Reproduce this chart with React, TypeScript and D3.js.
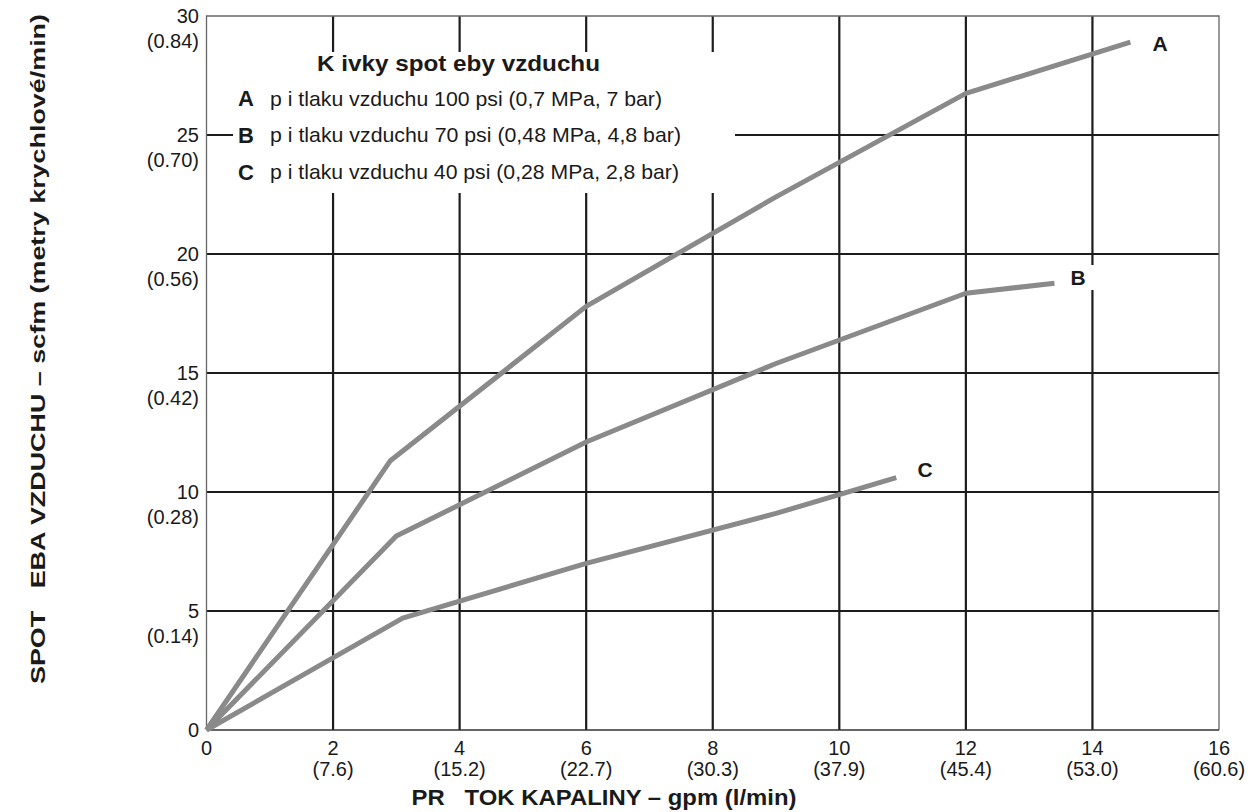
import React, { useEffect, useRef } from 'react';
import * as d3 from 'd3';

// flow (gpm) vs. air consumption (scfm)
const curveA: [number, number][] = [[0, 0], [2.9, 11.3], [6, 17.8], [9, 22.4], [12, 26.75], [14.6, 28.9]];
const curveB: [number, number][] = [[0, 0], [3, 8.15], [6, 12.1], [9, 15.4], [12, 18.35], [13.4, 18.77]];
const curveC: [number, number][] = [[0, 0], [3.1, 4.7], [6, 7.0], [9, 9.1], [10.9, 10.6]];

const xTicks = [0, 2, 4, 6, 8, 10, 12, 14, 16];
const xTickSub = ['', '(7.6)', '(15.2)', '(22.7)', '(30.3)', '(37.9)', '(45.4)', '(53.0)', '(60.6)'];
const yTicks = [0, 5, 10, 15, 20, 25, 30];
const yTickSub = ['', '(0.14)', '(0.28)', '(0.42)', '(0.56)', '(0.70)', '(0.84)'];

const legendTitle = 'K ivky spot eby vzduchu';
const legendRows = [
  { key: 'A', text: 'p i tlaku vzduchu 100 psi (0,7 MPa, 7 bar)', len: 392 },
  { key: 'B', text: 'p i tlaku vzduchu 70 psi (0,48 MPa, 4,8 bar)', len: 411 },
  { key: 'C', text: 'p i tlaku vzduchu 40 psi (0,28 MPa, 2,8 bar)', len: 409 },
];

const xTitle = 'PR   TOK KAPALINY – gpm (l/min)';
const yTitle = 'SPOT   EBA VZDUCHU – scfm (metry krychlové/min)';

const W = 1252;
const H = 812;
const FONT = '"Liberation Sans", Arial, Helvetica, sans-serif';
const INK = '#1a1a1a';

const App: React.FC = () => {
  const svgRef = useRef<SVGSVGElement>(null);

  useEffect(() => {
    if (!svgRef.current) return;
    const svg = d3.select(svgRef.current);
    svg.selectAll('*').remove();

    const x = d3.scaleLinear().domain([0, 16]).range([206.5, 1219]);
    const y = d3.scaleLinear().domain([0, 30]).range([730, 16]);

    svg.append('rect').attr('width', W).attr('height', H).attr('fill', '#fff');

    // grid
    const grid = svg.append('g').attr('stroke', '#1c1c1c').attr('stroke-width', 2.2);
    xTicks.filter(t => t > 0 && t < 16).forEach(t => {
      grid.append('line')
        .attr('x1', x(t)).attr('x2', x(t))
        .attr('y1', y(0)).attr('y2', y(30));
    });
    yTicks.filter(t => t > 0 && t < 30).forEach(t => {
      grid.append('line')
        .attr('x1', x(0)).attr('x2', x(16))
        .attr('y1', y(t)).attr('y2', y(t));
    });

    // frame
    const frame = svg.append('g').attr('fill', 'none');
    frame.append('path')
      .attr('d', `M${x(0)},${y(0)} V${y(30)} H${x(16)} V${y(0)}`)
      .attr('stroke', '#666').attr('stroke-width', 1.3);
    frame.append('line')
      .attr('x1', x(0)).attr('x2', x(16)).attr('y1', y(0)).attr('y2', y(0))
      .attr('stroke', '#333').attr('stroke-width', 1.6);

    // white knock-outs behind legend and label B
    svg.append('rect').attr('x', 233).attr('y', 52).attr('width', 502).attr('height', 141).attr('fill', '#fff');
    svg.append('rect').attr('x', 1064).attr('y', 265).attr('width', 40).attr('height', 25).attr('fill', '#fff');

    // curves
    const line = d3.line<[number, number]>().x(d => x(d[0])).y(d => y(d[1]));
    [curveA, curveB, curveC].forEach(c => {
      svg.append('path')
        .datum(c)
        .attr('d', line)
        .attr('fill', 'none')
        .attr('stroke', '#8a8a8a')
        .attr('stroke-width', 5)
        .attr('stroke-linejoin', 'round');
    });

    const txt = (sel: d3.Selection<any, unknown, null, undefined>, size: number, bold = false) =>
      sel.style('font-family', FONT).style('font-size', `${size}px`)
        .style('font-weight', bold ? 'bold' : 'normal').attr('fill', INK);

    // curve labels
    const labels: [string, number, number][] = [['A', 1160, 43], ['B', 1078, 277], ['C', 925, 469]];
    labels.forEach(([t, lx, ly]) => {
      txt(svg.append('text')
        .attr('x', lx).attr('y', ly).attr('dy', '0.36em')
        .attr('text-anchor', 'middle'), 21, true)
        .text(t);
    });

    // legend
    txt(svg.append('text')
      .attr('x', 317).attr('y', 63).attr('dy', '0.36em')
      .attr('textLength', 283).attr('lengthAdjust', 'spacingAndGlyphs'), 22, true)
      .text(legendTitle);
    legendRows.forEach((r, i) => {
      const ry = 98 + i * 36.8;
      txt(svg.append('text')
        .attr('x', 238).attr('y', ry).attr('dy', '0.36em'), 22, true)
        .text(r.key);
      txt(svg.append('text')
        .attr('x', 270).attr('y', ry).attr('dy', '0.36em')
        .attr('textLength', r.len).attr('lengthAdjust', 'spacingAndGlyphs'), 21)
        .text(r.text);
    });

    // y tick labels
    yTicks.forEach((t, i) => {
      txt(svg.append('text')
        .attr('x', 199).attr('y', y(t)).attr('dy', '0.36em')
        .attr('text-anchor', 'end'), 20)
        .text(t);
      if (yTickSub[i]) {
        txt(svg.append('text')
          .attr('x', 199).attr('y', y(t) + 25).attr('dy', '0.36em')
          .attr('text-anchor', 'end'), 20)
          .text(yTickSub[i]);
      }
    });

    // x tick labels
    xTicks.forEach((t, i) => {
      txt(svg.append('text')
        .attr('x', x(t)).attr('y', 748).attr('dy', '0.36em')
        .attr('text-anchor', 'middle'), 20)
        .text(t);
      if (xTickSub[i]) {
        txt(svg.append('text')
          .attr('x', x(t)).attr('y', 769).attr('dy', '0.36em')
          .attr('text-anchor', 'middle'), 20)
          .text(xTickSub[i]);
      }
    });

    // axis titles
    txt(svg.append('text')
      .attr('x', 411.5).attr('y', 797).attr('dy', '0.36em')
      .attr('xml:space', 'preserve')
      .style('white-space', 'pre')
      .attr('textLength', 385).attr('lengthAdjust', 'spacingAndGlyphs'), 22, true)
      .text(xTitle);
    txt(svg.append('text')
      .attr('transform', `translate(37,684) rotate(-90)`)
      .attr('dy', '0.36em')
      .attr('xml:space', 'preserve')
      .style('white-space', 'pre')
      .attr('textLength', 670).attr('lengthAdjust', 'spacingAndGlyphs'), 21, true)
      .text(yTitle);
  }, []);

  return (
    <div style={{ position: 'absolute', left: 0, top: 0 }}>
      <svg ref={svgRef} width={W} height={H} viewBox={`0 0 ${W} ${H}`} style={{ display: 'block' }} />
    </div>
  );
};

export default App;
